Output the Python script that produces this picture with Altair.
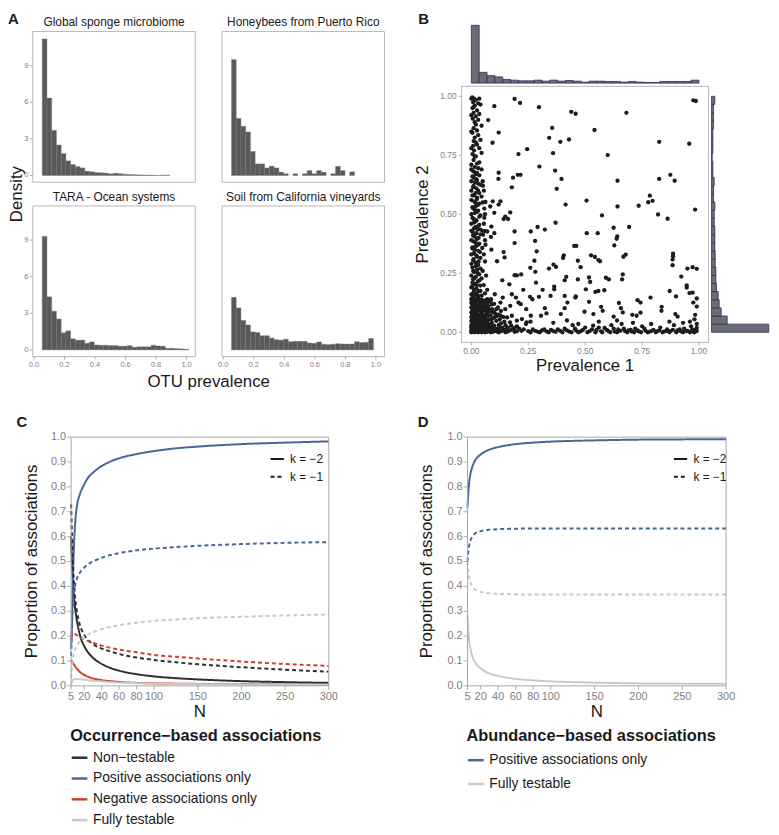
import altair as alt
import pandas as pd

FONT = "Liberation Sans"
DARK = "#1a1a1a"
TICKLAB = "#7f7f7f"
TICK = "#9a9a9a"
FRAME = "#b8b8b8"
FRAME_CD = "#a8a8a8"

# ---------------- Panel A : OTU prevalence histograms ----------------
a_bin_lo = [0.054, 0.085, 0.116, 0.147, 0.178, 0.209, 0.240, 0.271, 0.302, 0.333,
            0.364, 0.395, 0.426, 0.457, 0.488, 0.519, 0.550, 0.581, 0.612, 0.643,
            0.674, 0.705, 0.736, 0.767, 0.798, 0.829, 0.860, 0.891, 0.922, 0.953, 0.984]
a_bin_w = 0.031
a_titles = ["Global sponge microbiome", "Honeybees from Puerto Rico",
            "TARA - Ocean systems", "Soil from California vineyards"]
a_sponge = [11.2, 6.35, 3.7, 2.5, 1.8, 1.2, 0.9, 0.73, 0.62, 0.35, 0.3, 0.24, 0.22, 0.19, 0.13,
            0.18, 0.14, 0.1, 0.08, 0.07, 0.05, 0.04, 0.03, 0.03, 0.01, 0.03, 0.02, 0, 0, 0, 0]
a_honeybees = [9.5, 4.68, 4.03, 3.57, 1.97, 0.95, 0.95, 0.62, 0.76, 0.62, 0.27, 0.14, 0, 0.14, 0,
               0.14, 0.4, 0.14, 0.4, 0.27, 0, 0.14, 0.75, 0.4, 0, 0.3, 0, 0, 0, 0, 0]
a_tara = [9.3, 4.35, 3.17, 2.53, 1.4, 1.56, 0.91, 0.8, 0.8, 0.54, 0.65, 0.4, 0.38, 0.38, 0.35,
          0.35, 0.3, 0.3, 0.35, 0.22, 0.25, 0.25, 0.25, 0.38, 0.32, 0.3, 0.13, 0.13, 0.1, 0.08, 0.05]
a_soil = [4.3, 3.44, 2.42, 2.04, 1.48, 1.42, 1.16, 1.16, 0.97, 0.83, 0.8, 0.88, 0.67, 0.7, 0.7,
          0.7, 0.56, 0.54, 0.65, 0.46, 0.43, 0.46, 0.51, 0.48, 0.48, 0.48, 0.67, 0.6, 0.62, 0.94, 0]
a_x_ticks = [0.0, 0.2, 0.4, 0.6, 0.8, 1.0]
a_x_labels = ["0.0", "0.2", "0.4", "0.6", "0.8", "1.0"]
a_y_ticks = [0, 3, 6, 9]
a_y_labels = ["0", "3", "6", "9"]
a_x_dom = [-0.008, 1.057]
a_y_dom = [-0.55, 11.8]

# ---------------- Panel B : prevalence scatter + marginals ----------------
b_column_pts = [
    (0.004, 0.995), (0.012, 0.99), (0.02, 0.985), (0.008, 0.975), (0.035, 0.99), (0.03, 0.97),
    (0.04, 0.965), (0.015, 0.96), (0.005, 0.95), (0.025, 0.94), (0.01, 0.93), (0.035, 0.925),
    (0.02, 0.915), (0.006, 0.905), (0.03, 0.9), (0.015, 0.89), (0.045, 0.875), (0.01, 0.865),
    (0.025, 0.855), (0.005, 0.845), (0.03, 0.835), (0.015, 0.825), (0.04, 0.815), (0.02, 0.805),
    (0.008, 0.79), (0.035, 0.78), (0.012, 0.77), (0.005, 0.755), (0.045, 0.76), (0.02, 0.745),
    (0.01, 0.73), (0.025, 0.715), (0.015, 0.7), (0.03, 0.695), (0.005, 0.685), (0.02, 0.67),
    (0.035, 0.665), (0.01, 0.655), (0.025, 0.645), (0.015, 0.635), (0.04, 0.625), (0.008, 0.615),
    (0.03, 0.6), (0.018, 0.59), (0.005, 0.58), (0.045, 0.575), (0.025, 0.565), (0.012, 0.555),
    (0.035, 0.545), (0.02, 0.535), (0.008, 0.525), (0.03, 0.515), (0.015, 0.505), (0.04, 0.495),
    (0.005, 0.485), (0.022, 0.475), (0.012, 0.465), (0.035, 0.455), (0.018, 0.445), (0.028, 0.435),
    (0.006, 0.425), (0.04, 0.415), (0.015, 0.405), (0.025, 0.395), (0.01, 0.385), (0.035, 0.375),
    (0.02, 0.365), (0.005, 0.355), (0.03, 0.345), (0.012, 0.335), (0.022, 0.325), (0.04, 0.315),
    (0.008, 0.305), (0.018, 0.295), (0.03, 0.285), (0.005, 0.275), (0.025, 0.265), (0.012, 0.255),
    (0.035, 0.245), (0.02, 0.235), (0.045, 0.228), (0.008, 0.225), (0.028, 0.215), (0.015, 0.205),
    (0.04, 0.198), (0.005, 0.195), (0.022, 0.185), (0.032, 0.175), (0.01, 0.17), (0.018, 0.16),
    (0.045, 0.155), (0.028, 0.15)]
b_column_extra = [
    (0.0, 0.69), (0.012, 0.68), (0.025, 0.675), (0.005, 0.66), (0.02, 0.65), (0.0, 0.64), (0.03, 0.63),
    (0.01, 0.62), (0.022, 0.61), (0.0, 0.6), (0.035, 0.59), (0.012, 0.58), (0.025, 0.57), (0.0, 0.56),
    (0.018, 0.55), (0.03, 0.54), (0.005, 0.53), (0.015, 0.52), (0.025, 0.51), (0.0, 0.5), (0.035, 0.49),
    (0.01, 0.48), (0.02, 0.47), (0.0, 0.46), (0.03, 0.45), (0.012, 0.44), (0.04, 0.435), (0.0, 0.43),
    (0.022, 0.42), (0.008, 0.41), (0.032, 0.4), (0.0, 0.39), (0.018, 0.38), (0.028, 0.37), (0.005, 0.36),
    (0.015, 0.35), (0.038, 0.34), (0.0, 0.33), (0.025, 0.32), (0.01, 0.31), (0.032, 0.3), (0.0, 0.29),
    (0.02, 0.28), (0.04, 0.27), (0.008, 0.26), (0.028, 0.25), (0.0, 0.24), (0.015, 0.23), (0.035, 0.22),
    (0.005, 0.21), (0.025, 0.2), (0.0, 0.19), (0.012, 0.18), (0.04, 0.175), (0.022, 0.165), (0.0, 0.16),
    (0.03, 0.155), (0.008, 0.15), (0.0, 0.99), (0.01, 0.955), (0.0, 0.92), (0.02, 0.88), (0.0, 0.85),
    (0.01, 0.81), (0.025, 0.795), (0.0, 0.78), (0.015, 0.745), (0.035, 0.72), (0.0, 0.71), (0.045, 0.69),
    (0.05, 0.64), (0.055, 0.6), (0.05, 0.55), (0.06, 0.5), (0.055, 0.46), (0.05, 0.43), (0.06, 0.39),
    (0.055, 0.33), (0.06, 0.3), (0.05, 0.26), (0.065, 0.24), (0.055, 0.2), (0.07, 0.18), (0.06, 0.165)]
b_cluster_pts = [
    (0.005, 0.145), (0.015, 0.14), (0.03, 0.142), (0.045, 0.138), (0.06, 0.135), (0.008, 0.13),
    (0.022, 0.128), (0.038, 0.125), (0.075, 0.128), (0.003, 0.12), (0.018, 0.118), (0.05, 0.115),
    (0.09, 0.118), (0.012, 0.11), (0.028, 0.108), (0.042, 0.105), (0.065, 0.102), (0.005, 0.1),
    (0.02, 0.098), (0.035, 0.095), (0.055, 0.092), (0.08, 0.095), (0.11, 0.098), (0.01, 0.09),
    (0.025, 0.088), (0.045, 0.085), (0.07, 0.082), (0.095, 0.085), (0.003, 0.08), (0.015, 0.078),
    (0.032, 0.075), (0.05, 0.072), (0.085, 0.07), (0.12, 0.075), (0.008, 0.068), (0.022, 0.065),
    (0.04, 0.062), (0.06, 0.06), (0.1, 0.062), (0.14, 0.065), (0.005, 0.058), (0.018, 0.055),
    (0.03, 0.052), (0.048, 0.05), (0.075, 0.052), (0.11, 0.048), (0.012, 0.045), (0.025, 0.042),
    (0.038, 0.04), (0.058, 0.042), (0.09, 0.04), (0.13, 0.038), (0.17, 0.042), (0.004, 0.035),
    (0.015, 0.032), (0.028, 0.03), (0.045, 0.028), (0.065, 0.03), (0.1, 0.028), (0.15, 0.03),
    (0.008, 0.025), (0.02, 0.022), (0.035, 0.02), (0.055, 0.018), (0.08, 0.02), (0.12, 0.018),
    (0.16, 0.02), (0.2, 0.025), (0.003, 0.015), (0.012, 0.012), (0.025, 0.01), (0.04, 0.012),
    (0.06, 0.008), (0.09, 0.01), (0.14, 0.008), (0.18, 0.012), (0.005, 0.005), (0.018, 0.004),
    (0.03, 0.003), (0.05, 0.005), (0.07, 0.002), (0.11, 0.004), (0.16, 0.003), (0.22, 0.006)]
b_cluster_extra = [
    (0.0, 0.14), (0.01, 0.135), (0.025, 0.133), (0.04, 0.13), (0.055, 0.128), (0.07, 0.14), (0.085, 0.132),
    (0.1, 0.12), (0.0, 0.125), (0.013, 0.115), (0.03, 0.113), (0.045, 0.11), (0.06, 0.108), (0.075, 0.11),
    (0.0, 0.105), (0.015, 0.1), (0.03, 0.1), (0.048, 0.095), (0.065, 0.09), (0.085, 0.088), (0.1, 0.085),
    (0.13, 0.09), (0.0, 0.085), (0.01, 0.08), (0.022, 0.078), (0.04, 0.075), (0.06, 0.072), (0.075, 0.07),
    (0.11, 0.068), (0.0, 0.065), (0.012, 0.06), (0.028, 0.06), (0.045, 0.058), (0.065, 0.055), (0.09, 0.055),
    (0.125, 0.055), (0.0, 0.048), (0.01, 0.045), (0.02, 0.04), (0.032, 0.038), (0.05, 0.036), (0.07, 0.04),
    (0.08, 0.032), (0.12, 0.03), (0.145, 0.045), (0.0, 0.03), (0.008, 0.028), (0.02, 0.03), (0.038, 0.028),
    (0.052, 0.025), (0.07, 0.018), (0.09, 0.022), (0.105, 0.015), (0.135, 0.02), (0.175, 0.028), (0.0, 0.02),
    (0.015, 0.018), (0.028, 0.016), (0.045, 0.018), (0.065, 0.012), (0.08, 0.008), (0.1, 0.006), (0.12, 0.01),
    (0.15, 0.012), (0.19, 0.018), (0.0, 0.008), (0.01, 0.005), (0.022, 0.006), (0.035, 0.008), (0.045, 0.0),
    (0.058, 0.004), (0.075, 0.006), (0.095, 0.002), (0.13, 0.004), (0.17, 0.008), (0.2, 0.004), (0.0, 0.0),
    (0.015, 0.0), (0.03, 0.0), (0.06, 0.0), (0.085, 0.0), (0.12, 0.0), (0.15, 0.0), (0.23, 0.012)]
b_baseline_pts = [
    (0.25, 0.005), (0.27, 0.012), (0.29, 0.003), (0.31, 0.008), (0.33, 0.004), (0.35, 0.01),
    (0.37, 0.002), (0.39, 0.006), (0.41, 0.015), (0.43, 0.003), (0.445, 0.03), (0.46, 0.008),
    (0.48, 0.004), (0.5, 0.02), (0.52, 0.005), (0.535, 0.028), (0.55, 0.01), (0.57, 0.004),
    (0.585, 0.018), (0.6, 0.006), (0.615, 0.03), (0.63, 0.003), (0.645, 0.012), (0.66, 0.035),
    (0.675, 0.005), (0.69, 0.008), (0.705, 0.003), (0.72, 0.015), (0.735, 0.004), (0.75, 0.025),
    (0.765, 0.006), (0.78, 0.002), (0.8, 0.01), (0.815, 0.004), (0.83, 0.02), (0.845, 0.003),
    (0.86, 0.012), (0.875, 0.005), (0.89, 0.03), (0.905, 0.008), (0.92, 0.004), (0.935, 0.015),
    (0.95, 0.006), (0.965, 0.025), (0.975, 0.003), (0.985, 0.01), (0.99, 0.035), (0.98, 0.055),
    (0.96, 0.045), (0.24, 0.035), (0.21, 0.015), (0.19, 0.002), (0.26, 0.045), (0.36, 0.04),
    (0.42, 0.05), (0.47, 0.035), (0.56, 0.045), (0.64, 0.05), (0.71, 0.04), (0.79, 0.035),
    (0.87, 0.045), (0.93, 0.04)]
b_baseline_extra = [
    (0.26, 0.0), (0.28, 0.006), (0.3, 0.0), (0.32, 0.012), (0.34, 0.0), (0.36, 0.005), (0.38, 0.012),
    (0.4, 0.0), (0.42, 0.008), (0.44, 0.0), (0.455, 0.015), (0.47, 0.0), (0.49, 0.01), (0.51, 0.0),
    (0.53, 0.012), (0.545, 0.0), (0.56, 0.02), (0.575, 0.0), (0.595, 0.01), (0.61, 0.0), (0.625, 0.015),
    (0.64, 0.0), (0.655, 0.006), (0.67, 0.015), (0.685, 0.0), (0.7, 0.01), (0.715, 0.0), (0.73, 0.008),
    (0.745, 0.0), (0.76, 0.015), (0.775, 0.0), (0.79, 0.005), (0.81, 0.0), (0.825, 0.008), (0.84, 0.0),
    (0.855, 0.005), (0.87, 0.0), (0.885, 0.01), (0.9, 0.0), (0.915, 0.012), (0.93, 0.0), (0.945, 0.005),
    (0.96, 0.0), (0.97, 0.012), (0.98, 0.0), (0.99, 0.005), (0.99, 0.018)]
b_scattered_pts = [
    (0.19, 0.989), (0.214, 0.972), (0.297, 0.954), (0.101, 0.958), (0.439, 0.934), (0.458, 0.926),
    (0.681, 0.93), (0.975, 0.983), (0.986, 0.98), (0.074, 0.899), (0.541, 0.857), (0.355, 0.866),
    (0.12, 0.846), (0.342, 0.824), (0.391, 0.807), (0.429, 0.817), (0.825, 0.807), (0.957, 0.799),
    (0.093, 0.803), (0.245, 0.776), (0.207, 0.755), (0.359, 0.759), (0.599, 0.751), (0.299, 0.702),
    (0.368, 0.685), (0.12, 0.676), (0.119, 0.65), (0.183, 0.655), (0.204, 0.667), (0.216, 0.667),
    (0.396, 0.65), (0.642, 0.642), (0.825, 0.65), (0.874, 0.667), (0.893, 0.642), (0.178, 0.614),
    (0.375, 0.608), (0.051, 0.621), (0.414, 0.541), (0.506, 0.558), (0.642, 0.533), (0.735, 0.536),
    (0.784, 0.579), (0.796, 0.557), (0.777, 0.551), (0.82, 0.499), (0.983, 0.52), (0.862, 0.481),
    (0.574, 0.495), (0.128, 0.555), (0.094, 0.555), (0.062, 0.552), (0.12, 0.541), (0.083, 0.533),
    (0.101, 0.506), (0.057, 0.524), (0.171, 0.508), (0.149, 0.49), (0.142, 0.48), (0.161, 0.48),
    (0.057, 0.485), (0.088, 0.448), (0.101, 0.42), (0.07, 0.427), (0.059, 0.429), (0.086, 0.404),
    (0.052, 0.413), (0.088, 0.35), (0.048, 0.357), (0.062, 0.371), (0.19, 0.427), (0.19, 0.378),
    (0.261, 0.427), (0.291, 0.446), (0.323, 0.435), (0.28, 0.387), (0.287, 0.343), (0.37, 0.464),
    (0.507, 0.42), (0.555, 0.42), (0.452, 0.366), (0.461, 0.366), (0.625, 0.443), (0.641, 0.406),
    (0.638, 0.396), (0.693, 0.446), (0.628, 0.368), (0.678, 0.329), (0.668, 0.32), (0.142, 0.34),
    (0.146, 0.317), (0.113, 0.301), (0.406, 0.326), (0.403, 0.315), (0.277, 0.303), (0.468, 0.303),
    (0.526, 0.326), (0.543, 0.319), (0.558, 0.306), (0.565, 0.301), (0.886, 0.333), (0.886, 0.322),
    (0.884, 0.308), (0.884, 0.284), (0.949, 0.27), (0.972, 0.276), (0.99, 0.269), (0.922, 0.236),
    (0.361, 0.287), (0.372, 0.277), (0.341, 0.27), (0.48, 0.276), (0.259, 0.273), (0.219, 0.245),
    (0.2, 0.241), (0.19, 0.242), (0.136, 0.22), (0.167, 0.203), (0.281, 0.256), (0.417, 0.235),
    (0.41, 0.22), (0.468, 0.224), (0.517, 0.232), (0.522, 0.213), (0.591, 0.231), (0.604, 0.224),
    (0.665, 0.245), (0.662, 0.224), (0.284, 0.21), (0.364, 0.193), (0.364, 0.182), (0.313, 0.18),
    (0.228, 0.18), (0.503, 0.182), (0.545, 0.171), (0.558, 0.175), (0.584, 0.178), (0.946, 0.199),
    (0.946, 0.189), (0.958, 0.166), (0.972, 0.168), (0.871, 0.175), (0.899, 0.152), (0.787, 0.147),
    (0.99, 0.143), (0.975, 0.126), (0.99, 0.109), (0.459, 0.152), (0.457, 0.147), (0.517, 0.129),
    (0.648, 0.124), (0.73, 0.136), (0.743, 0.126), (0.836, 0.108), (0.835, 0.091), (0.657, 0.102),
    (0.665, 0.084), (0.57, 0.108), (0.577, 0.091), (0.536, 0.077), (0.625, 0.066), (0.707, 0.074),
    (0.743, 0.083), (0.726, 0.07), (0.896, 0.077), (0.906, 0.066), (0.983, 0.074), (0.497, 0.087),
    (0.41, 0.102), (0.393, 0.077), (0.323, 0.102), (0.33, 0.08), (0.306, 0.07), (0.261, 0.07),
    (0.217, 0.119), (0.241, 0.098), (0.258, 0.15), (0.268, 0.14), (0.297, 0.15), (0.348, 0.154),
    (0.41, 0.154), (0.422, 0.126), (0.178, 0.161), (0.196, 0.147), (0.207, 0.126), (0.171, 0.112),
    (0.149, 0.098), (0.128, 0.126), (0.117, 0.105), (0.138, 0.147), (0.103, 0.161), (0.086, 0.14),
    (0.068, 0.119), (0.091, 0.098), (0.106, 0.077), (0.128, 0.07), (0.157, 0.063), (0.178, 0.07),
    (0.2, 0.049), (0.222, 0.056), (0.243, 0.042)]
b_hist_lo = [i / 29 for i in range(29)]
b_hist_w = 1 / 29
b_top_counts = [177, 33, 23, 19, 11, 9, 7, 7, 9, 6, 9, 6, 8, 6, 3, 6, 6, 5, 5, 3, 5, 3, 2, 2, 5, 5, 5, 5, 9]
b_right_counts = [172, 47, 29, 23, 20, 15, 13, 13, 11, 11, 10, 10, 10, 8, 8, 10, 6, 6, 8, 4, 4, 2, 4, 4, 4, 6, 6, 6, 10]
b_ticks = [0.0, 0.25, 0.5, 0.75, 1.0]
b_labels = ["0.00", "0.25", "0.50", "0.75", "1.00"]
b_dom = [-0.043, 1.042]

# ---------------- Panels C and D : proportions of associations ----------------
n_values = [5, 6, 7, 8, 10, 12, 15, 20, 25, 30, 40, 50, 60, 80, 100, 125, 150, 200, 250, 300]
n_ticks = [5, 20, 40, 60, 80, 100, 150, 200, 250, 300]
n_labels = ["5", "20", "40", "60", "80", "100", "150", "200", "250", "300"]
prop_ticks = [0.0, 0.1, 0.2, 0.3, 0.4, 0.5, 0.6, 0.7, 0.8, 0.9, 1.0]
prop_labels = ["0.0", "0.1", "0.2", "0.3", "0.4", "0.5", "0.6", "0.7", "0.8", "0.9", "1.0"]
k_levels = ["k = \u22122", "k = \u22121"]

c_types = ["Non\u2212testable", "Positive associations only", "Negative associations only", "Fully testable"]
c_colors = ["#2e2e2e", "#4a6699", "#d13d30", "#c9c9c9"]
c_nontest_k2 = [0.6, 0.5, 0.43, 0.37, 0.3, 0.255, 0.205, 0.16, 0.132, 0.113, 0.088, 0.072, 0.061, 0.047, 0.038, 0.031, 0.026, 0.019, 0.015, 0.012]
c_positive_k2 = [0.15, 0.25, 0.42, 0.54, 0.67, 0.73, 0.77, 0.81, 0.84, 0.857, 0.884, 0.902, 0.915, 0.932, 0.944, 0.955, 0.962, 0.972, 0.978, 0.983]
c_negative_k2 = [0.105, 0.1, 0.093, 0.087, 0.077, 0.068, 0.056, 0.044, 0.036, 0.03, 0.023, 0.019, 0.016, 0.012, 0.01, 0.009, 0.008, 0.007, 0.006, 0.006]
c_fully_k2 = [0.005, 0.015, 0.022, 0.026, 0.028, 0.028, 0.027, 0.025, 0.023, 0.021, 0.018, 0.015, 0.013, 0.011, 0.009, 0.008, 0.007, 0.006, 0.005, 0.004]
c_nontest_k1 = [0.73, 0.6, 0.5, 0.43, 0.34, 0.29, 0.245, 0.205, 0.183, 0.168, 0.15, 0.138, 0.128, 0.114, 0.104, 0.095, 0.087, 0.075, 0.065, 0.057]
c_positive_k1 = [0.12, 0.25, 0.33, 0.37, 0.41, 0.435, 0.455, 0.475, 0.49, 0.5, 0.515, 0.526, 0.534, 0.545, 0.552, 0.558, 0.563, 0.57, 0.575, 0.578]
c_negative_k1 = [0.19, 0.205, 0.21, 0.21, 0.207, 0.203, 0.197, 0.188, 0.18, 0.173, 0.162, 0.153, 0.146, 0.135, 0.124, 0.117, 0.11, 0.098, 0.088, 0.08]
c_fully_k1 = [0.03, 0.08, 0.11, 0.13, 0.15, 0.165, 0.18, 0.197, 0.208, 0.216, 0.228, 0.237, 0.244, 0.254, 0.261, 0.267, 0.272, 0.278, 0.283, 0.287]

d_types = ["Positive associations only", "Fully testable"]
d_colors = ["#4a6699", "#c9c9c9"]
d_positive_k2 = [0.717, 0.78, 0.82, 0.845, 0.875, 0.895, 0.913, 0.93, 0.942, 0.95, 0.96, 0.967, 0.972, 0.978, 0.982, 0.985, 0.987, 0.99, 0.991, 0.992]
d_fully_k2 = [0.283, 0.22, 0.18, 0.155, 0.125, 0.105, 0.087, 0.07, 0.058, 0.05, 0.04, 0.033, 0.028, 0.022, 0.018, 0.015, 0.013, 0.01, 0.009, 0.008]
d_positive_k1 = [0.5, 0.54, 0.565, 0.58, 0.597, 0.607, 0.616, 0.622, 0.626, 0.628, 0.63, 0.631, 0.632, 0.633, 0.633, 0.633, 0.633, 0.633, 0.633, 0.633]
d_fully_k1 = [0.5, 0.46, 0.435, 0.42, 0.403, 0.393, 0.384, 0.378, 0.374, 0.372, 0.37, 0.369, 0.368, 0.367, 0.367, 0.367, 0.367, 0.367, 0.367, 0.367]

# ---------------- layout (pixels inside one 770 x 826 view) ----------------
W, H = 770, 826
A_XR = [(25, 189), (216, 380)]
A_YR = [(20, 172), (196, 348)]
B_XR = (457.7, 707.0)
B_YR = (75.3, 333.7)
B_TOP_YR = (13.7, 72.0)
B_RIGHT_XR = (710.0, 767.7)
C_XR = (63.7, 323.7)
D_XR = (463.7, 724.7)
CD_YR = (429.3, 680.3)


# ---------------- helpers ----------------
def sc(dom, rng):
    return alt.Scale(domain=list(dom), range=list(rng), nice=False, zero=False)


def text_layer(text, x, y, size, weight="normal", angle=0, color=DARK, align="center"):
    return alt.Chart(pd.DataFrame({"t": [text]})).mark_text(
        fontSize=size, fontWeight=weight, angle=angle, color=color,
        align=align, baseline="middle", font=FONT
    ).encode(x=alt.value(x), y=alt.value(y), text="t:N")


def frame_layer(xdom, ydom, xs, ys, color):
    df = pd.DataFrame({"x0": [xdom[0]], "x1": [xdom[1]], "y0": [ydom[0]], "y1": [ydom[1]]})
    return alt.Chart(df).mark_rect(fillOpacity=0, stroke=color, strokeWidth=1).encode(
        x=alt.X("x0:Q", scale=xs, axis=None), x2="x1:Q",
        y=alt.Y("y0:Q", scale=ys, axis=None), y2="y1:Q")


def y_ticks(vals, labels, ys, x_left, tick, pad, fsize):
    df = pd.DataFrame({"v": vals, "lab": labels})
    rule = alt.Chart(df).mark_rule(color=TICK, strokeWidth=0.8).encode(
        y=alt.Y("v:Q", scale=ys, axis=None), x=alt.value(x_left - tick), x2=alt.value(x_left))
    txt = alt.Chart(df).mark_text(align="right", baseline="middle", fontSize=fsize, color=TICKLAB,
                                  font=FONT).encode(
        y=alt.Y("v:Q", scale=ys, axis=None), x=alt.value(x_left - tick - pad), text="lab:N")
    return [rule, txt]


def x_ticks(vals, labels, xs, y_bottom, tick, pad, fsize):
    df = pd.DataFrame({"v": vals, "lab": labels})
    rule = alt.Chart(df).mark_rule(color=TICK, strokeWidth=0.8).encode(
        x=alt.X("v:Q", scale=xs, axis=None), y=alt.value(y_bottom), y2=alt.value(y_bottom + tick))
    txt = alt.Chart(df).mark_text(align="center", baseline="top", fontSize=fsize, color=TICKLAB,
                                  font=FONT).encode(
        x=alt.X("v:Q", scale=xs, axis=None), y=alt.value(y_bottom + tick + pad), text="lab:N")
    return [rule, txt]


# ---------------- Panel A ----------------
def a_panel(idx, title, dens):
    col, row = idx % 2, idx // 2
    x0, x1 = A_XR[col]
    y0, y1 = A_YR[row]
    xs = sc(a_x_dom, (x0, x1))
    ys = sc(a_y_dom, (y1, y0))
    df = pd.DataFrame({"lo": a_bin_lo, "hi": [v + a_bin_w for v in a_bin_lo], "density": dens})
    df = df[df["density"] > 0]
    bars = alt.Chart(df).mark_rect(fill="#5a5a5a", stroke="#727272", strokeWidth=0.4).encode(
        x=alt.X("lo:Q", scale=xs, axis=None), x2="hi:Q",
        y=alt.Y("density:Q", scale=ys, axis=None), y2=alt.datum(0))
    layers = [bars, frame_layer(a_x_dom, a_y_dom, xs, ys, FRAME),
              text_layer(title, (x0 + x1) / 2, y0 - 9.5, 12)]
    if col == 0:
        layers += y_ticks(a_y_ticks, a_y_labels, ys, x0, 3, 1.5, 7.5)
    if row == 1:
        layers += x_ticks(a_x_ticks, a_x_labels, xs, y1, 3, 1.5, 7.5)
    return alt.layer(*layers)


a_panels = [a_panel(i, t, d) for i, (t, d) in enumerate(zip(a_titles, [a_sponge, a_honeybees, a_tara, a_soil]))]
a_text = alt.layer(
    text_layer("A", 5.5, 7, 15, "bold"),
    text_layer("Density", 9, 184, 17, angle=270),
    text_layer("OTU prevalence", 202.5, 374, 17),
)

# ---------------- Panel B ----------------
b_all = b_column_pts + b_column_extra + b_cluster_pts + b_cluster_extra + b_baseline_pts + b_baseline_extra + b_scattered_pts
b_df = pd.DataFrame({"p1": [p[0] for p in b_all], "p2": [p[1] for p in b_all]})
bxs = sc(b_dom, B_XR)
bys = sc(b_dom, (B_YR[1], B_YR[0]))
b_scatter = alt.layer(
    alt.Chart(b_df).mark_circle(size=19, color="#1c1c1c", opacity=1).encode(
        x=alt.X("p1:Q", scale=bxs, axis=None), y=alt.Y("p2:Q", scale=bys, axis=None)),
    frame_layer(b_dom, b_dom, bxs, bys, FRAME),
    *y_ticks(b_ticks, b_labels, bys, B_XR[0], 3, 2, 8.5),
    *x_ticks(b_ticks, b_labels, bxs, B_YR[1], 3, 1.5, 8.5),
    text_layer("Prevalence 1", 582.4, 358, 17),
    text_layer("Prevalence 2", 418.5, 204.5, 17, angle=270),
    text_layer("B", 419.5, 7, 15, "bold"),
)

top_df = pd.DataFrame({"lo": b_hist_lo, "hi": [v + b_hist_w for v in b_hist_lo], "count": b_top_counts})
b_top = alt.Chart(top_df).mark_rect(fill="#6c6c76", stroke="#2e2f5e", strokeWidth=0.8).encode(
    x=alt.X("lo:Q", scale=sc(b_dom, B_XR), axis=None), x2="hi:Q",
    y=alt.Y("count:Q", scale=sc([0, 177], (B_TOP_YR[1], B_TOP_YR[0])), axis=None), y2=alt.datum(0))

right_df = pd.DataFrame({"lo": b_hist_lo, "hi": [v + b_hist_w for v in b_hist_lo], "count": b_right_counts})
b_right = alt.Chart(right_df).mark_rect(fill="#6c6c76", stroke="#2e2f5e", strokeWidth=0.8).encode(
    y=alt.Y("lo:Q", scale=sc(b_dom, (B_YR[1], B_YR[0])), axis=None), y2="hi:Q",
    x=alt.X("count:Q", scale=sc([0, 172], B_RIGHT_XR), axis=None), x2=alt.datum(0))


# ---------------- Panels C and D ----------------
def long_df(series):
    rows = []
    for (t, k, vals) in series:
        for n, v in zip(n_values, vals):
            rows.append({"N": n, "prop": v, "type": t, "k": k})
    return pd.DataFrame(rows)


c_df = long_df([
    (c_types[0], k_levels[0], c_nontest_k2), (c_types[1], k_levels[0], c_positive_k2),
    (c_types[2], k_levels[0], c_negative_k2), (c_types[3], k_levels[0], c_fully_k2),
    (c_types[0], k_levels[1], c_nontest_k1), (c_types[1], k_levels[1], c_positive_k1),
    (c_types[2], k_levels[1], c_negative_k1), (c_types[3], k_levels[1], c_fully_k1),
])
d_df = long_df([
    (d_types[0], k_levels[0], d_positive_k2), (d_types[1], k_levels[0], d_fully_k2),
    (d_types[0], k_levels[1], d_positive_k1), (d_types[1], k_levels[1], d_fully_k1),
])


def line_panel(df, types, colors, legend_title, letter, xr, title_pad, row_pad, k_dx, letter_x, ytitle_x):
    xs = sc([5, 300], xr)
    ys = sc([0, 1], (CD_YR[1], CD_YR[0]))
    lines = alt.Chart(df).mark_line(strokeWidth=2, interpolate="monotone").encode(
        x=alt.X("N:Q", scale=xs, axis=None),
        y=alt.Y("prop:Q", scale=ys, axis=None),
        color=alt.Color("type:N", scale=alt.Scale(domain=types, range=colors),
                        legend=alt.Legend(orient="none", legendX=xr[0] - 1, legendY=CD_YR[0] + 294,
                                          title=legend_title, titleFontSize=16.5, titleFontWeight="bold",
                                          titleColor=DARK, titleLimit=500, titlePadding=title_pad,
                                          labelFontSize=14, labelColor=DARK, labelLimit=500,
                                          symbolType="stroke", symbolSize=250, symbolStrokeWidth=2.5,
                                          rowPadding=row_pad, labelOffset=4, padding=0)),
        strokeDash=alt.StrokeDash("k:N", scale=alt.Scale(domain=k_levels, range=[[1, 0], [4, 3]]),
                                  legend=alt.Legend(orient="none", legendX=xr[0] + k_dx, legendY=CD_YR[0] + 14,
                                                    title=None, labelFontSize=12, labelColor=DARK,
                                                    symbolType="stroke", symbolSize=180, symbolStrokeWidth=2,
                                                    symbolStrokeColor=DARK, rowPadding=4, labelOffset=5,
                                                    padding=0)),
    )
    cx = (xr[0] + xr[1]) / 2
    return alt.layer(
        lines,
        frame_layer([5, 300], [0, 1], xs, ys, FRAME_CD),
        *y_ticks(prop_ticks, prop_labels, ys, xr[0], 4, 1, 11),
        *x_ticks(n_ticks, n_labels, xs, CD_YR[1], 4, 1, 11),
        text_layer("N", cx, 707, 17),
        text_layer("Proportion of associations", ytitle_x, (CD_YR[0] + CD_YR[1]) / 2, 17, angle=270),
        text_layer(letter, letter_x, 414, 15, "bold"),
    )


c_panel = line_panel(c_df, c_types, c_colors, "Occurrence\u2212based associations", "C", C_XR, 3.5, 4, 200, 14, 24)
d_panel = line_panel(d_df, d_types, d_colors, "Abundance\u2212based associations", "D", D_XR, 6, 7, 207, 419, 423)

chart = alt.layer(
    *a_panels, a_text, b_scatter, b_top, b_right, c_panel, d_panel
).resolve_scale(
    x="independent", y="independent", color="independent", strokeDash="independent"
).properties(
    width=W, height=H, padding=0, autosize=alt.AutoSizeParams(type="none")
).configure(font=FONT).configure_view(stroke="transparent")

chart.save("out.html", embed_options={"renderer": "svg", "actions": False})
